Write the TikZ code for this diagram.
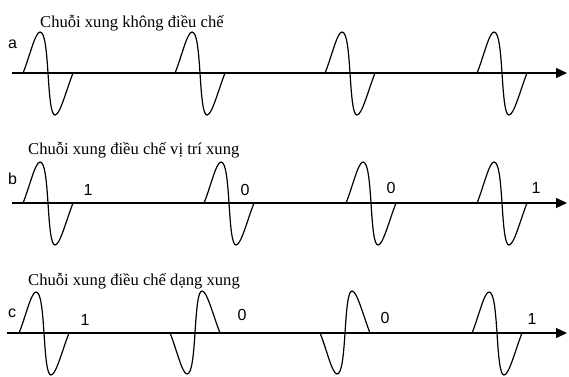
\documentclass[tikz,border=0pt]{standalone}
\usepackage{fontspec}
\setmainfont{Liberation Serif}
\setsansfont{Liberation Sans}
\usetikzlibrary{arrows.meta}
\newcommand{\swPulse}[3]{%
    \draw[line width=1.2pt, shift={(#1,#2)}, yscale=#3]
        (0,0) .. controls +(6,14) and +(-5,0) .. (17,41)
        .. controls +(5,0) and +(-1.5,22) .. (25,0)
        .. controls +(1.5,-24) and +(-4,0) .. (32,-42)
        .. controls +(5,0) and +(-7,-18) .. (50,0);
}
\tikzset{
    axisline/.style={line width=1.2pt, -{Triangle[length=11pt,width=10pt]}},
    titletext/.style={anchor=base west, inner sep=0pt, font=\fontsize{16.6}{18}\selectfont},
    rowtext/.style={anchor=base west, inner sep=0pt, font=\fontsize{16}{18}\selectfont\sffamily},
    bittext/.style={anchor=base, inner sep=0pt, font=\fontsize{16}{18}\selectfont\sffamily}
}
\begin{document}
\begin{tikzpicture}[x=1pt, y=1pt]
    \useasboundingbox (0,0) rectangle (569,376);

    \node[titletext] (titleA) at (40, 349) {Chuỗi xung không điều chế};
    \node[rowtext] (rowA) at (8, 328) {a};
    \coordinate (a0) at (12, 303);
    \coordinate (a1) at (567, 303);
    \draw[axisline] (a0) -- (a1);
    \foreach \x in {23, 175, 325, 477} {
        \swPulse{\x}{303}{1}
    }

    \node[titletext] (titleB) at (28, 222) {Chuỗi xung điều chế vị trí xung};
    \node[rowtext] (rowB) at (8, 192) {b};
    \coordinate (b0) at (12, 173);
    \coordinate (b1) at (567, 173);
    \draw[axisline] (b0) -- (b1);
    \foreach \x in {23, 204, 346, 477} {
        \swPulse{\x}{173}{1}
    }
    \foreach \x/\y/\t [count=\i] in {88/181/1, 245/181/0, 391/183/0, 536/183/1} {
        \node[bittext] (bitB\i) at (\x, \y) {\t};
    }

    \node[titletext] (titleC) at (28, 91) {Chuỗi xung điều chế dạng xung};
    \node[rowtext] (rowC) at (8, 59) {c};
    \coordinate (c0) at (7, 43);
    \coordinate (c1) at (567, 43);
    \draw[axisline] (c0) -- (c1);
    \swPulse{19}{43}{1}
    \swPulse{170}{43}{-1}
    \swPulse{320}{43}{-1}
    \swPulse{472}{43}{1}
    \foreach \x/\y/\t [count=\i] in {85/51/1, 242/56/0, 385/53/0, 532/52/1} {
        \node[bittext] (bitC\i) at (\x, \y) {\t};
    }
\end{tikzpicture}
\end{document}
